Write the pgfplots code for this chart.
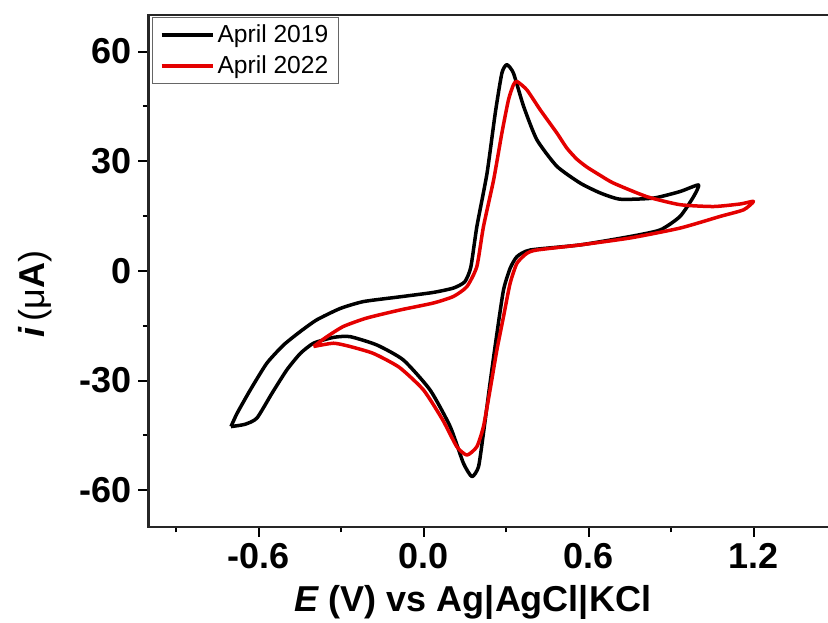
\documentclass[border=0pt]{standalone}
\usepackage{fontspec}
\setmainfont{Liberation Sans}
\usepackage{pgfplots}
\pgfplotsset{compat=1.18}
\definecolor{cvred}{RGB}{228,0,0}
\begin{document}
\begin{tikzpicture}
\begin{axis}[
  at={(0,0)}, anchor=south west,
  scale only axis, width=343.75pt, height=255.85pt,
  xmin=-1.0, xmax=1.5, ymin=-70, ymax=70,
  xtick={-0.6,0,0.6,1.2}, minor xtick={-0.9,-0.3,0.3,0.9},
  ytick={-60,-30,0,30,60}, minor ytick={-45,-15,15,45},
  xtick pos=bottom, ytick pos=left,
  tick align=outside,
  major tick length=5pt, minor tick length=2.8pt,
  every tick/.style={black, line width=1pt},
  every minor tick/.style={black, line width=1pt},
  axis line style={line width=1pt, black!85},
  /pgf/number format/assume math mode=true,
  x tick label style={/pgf/number format/.cd, fixed, fixed zerofill, precision=1, /tikz/.cd},
  y tick label style={/pgf/number format/.cd, fixed, precision=0, /tikz/.cd},
  tick label style={font=\bfseries\fontsize{18}{18}\selectfont},
  xlabel={\bfseries\itshape E\upshape\ (V) vs Ag|AgCl|KCl},
  xlabel style={at={(axis description cs:0.472,-0.1485)}, anchor=center, font=\fontsize{18}{18}\selectfont},
  ylabel={{\bfseries\itshape i}\,(μ{\bfseries A})},
  ylabel style={at={(axis description cs:-0.165,0.455)}, anchor=center, font=\fontsize{18}{18}\selectfont},
  legend style={at={(axis description cs:0.005,0.996)}, anchor=north west,
    draw=black!60, line width=0.6pt, font=\fontsize{12.3}{14}\selectfont,
    inner xsep=3.5pt, inner ysep=2pt, row sep=2pt, nodes={inner sep=1.5pt}},
  legend cell align=left,
  legend image code/.code={\draw[#1, line width=2pt] (0pt,0pt) -- (25.5pt,0pt);},
]
\addplot[black, line width=1.75pt, line join=round, smooth, tension=0.35] coordinates {
(-0.700,-42.6) (-0.678,-39.0) (-0.630,-32.6) (-0.570,-25.3) (-0.509,-20.3)
(-0.448,-16.6) (-0.388,-13.4) (-0.303,-10.3) (-0.218,-8.4) (-0.085,-7.1)
(0.036,-5.9) (0.109,-4.7) (0.150,-3.0) (0.172,1.0) (0.194,12.1)
(0.231,26.7) (0.261,43.2) (0.285,54.1) (0.303,56.4) (0.327,54.1)
(0.364,45.0) (0.412,35.9) (0.485,28.6) (0.570,24.0) (0.643,21.3)
(0.715,19.6) (0.836,19.9) (0.933,21.7) (1.000,23.5) (0.982,20.3)
(0.933,14.9) (0.861,11.2) (0.752,9.4) (0.570,7.1) (0.388,5.7)
(0.340,3.9) (0.315,0.7) (0.291,-5.2) (0.267,-17.1) (0.242,-30.7)
(0.218,-44.4) (0.200,-53.6) (0.176,-56.3) (0.145,-52.6) (0.097,-42.6)
(0.024,-32.6) (-0.073,-24.4) (-0.169,-20.3) (-0.267,-18.0) (-0.327,-18.2)
(-0.400,-19.8) (-0.448,-22.6) (-0.497,-27.1) (-0.551,-33.5) (-0.606,-40.3)
(-0.650,-42.0) (-0.700,-42.6)
};
\addlegendentry{April 2019}
\addplot[cvred, line width=1.75pt, line join=round, smooth, tension=0.35] coordinates {
(-0.400,-20.7) (-0.351,-18.0) (-0.291,-15.2) (-0.206,-12.9) (-0.085,-10.7)
(0.036,-8.8) (0.109,-7.0) (0.158,-4.3) (0.194,1.2) (0.218,12.1)
(0.255,24.9) (0.285,37.7) (0.309,46.8) (0.327,50.9) (0.340,51.8)
(0.376,49.5) (0.424,44.1) (0.485,37.7) (0.521,33.6) (0.557,30.6)
(0.594,28.4) (0.643,26.1) (0.691,24.0) (0.812,20.3) (0.933,18.1)
(1.055,17.6) (1.152,18.3) (1.200,19.0) (1.164,16.7) (1.079,14.9)
(0.933,11.7) (0.752,9.0) (0.570,7.1) (0.412,5.7) (0.376,4.8)
(0.340,2.1) (0.315,-3.4) (0.291,-12.5) (0.267,-21.6) (0.242,-32.6)
(0.218,-42.6) (0.194,-48.1) (0.158,-50.4) (0.121,-48.1) (0.070,-40.8)
(0.000,-32.6) (-0.088,-26.4) (-0.182,-22.6) (-0.267,-20.7) (-0.327,-19.8)
(-0.400,-20.7)
};
\addlegendentry{April 2022}
\end{axis}
\pgfresetboundingbox
\path[use as bounding box] (-74.25pt,-47.65pt) rectangle (339.75pt,263.35pt);
\end{tikzpicture}
\end{document}
